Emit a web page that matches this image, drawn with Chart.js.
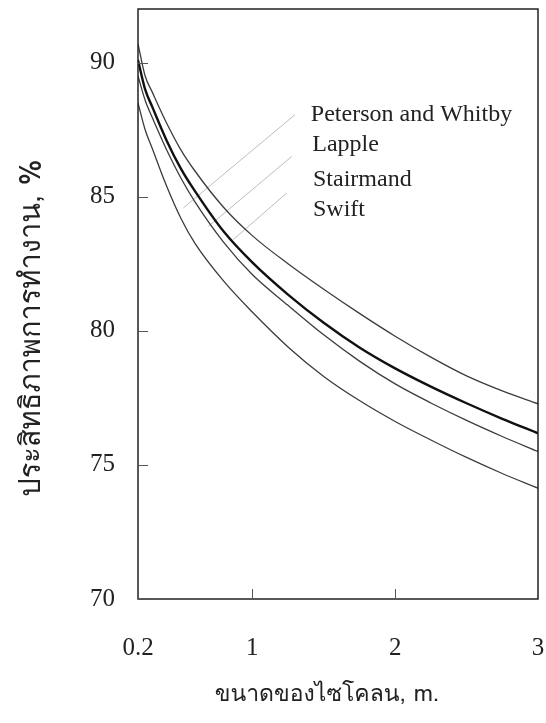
<!DOCTYPE html>
<html>
<head>
<meta charset="utf-8">
<script src="https://cdn.jsdelivr.net/npm/chart.js@4"></script>
<style>
  body { margin: 0; background: #fff; }
  #wrap { width: 546px; height: 723px; position: relative; }
</style>
</head>
<body>
<div id="wrap"><canvas id="chart"></canvas></div>
<script>
// cyclone diameter (m) vs collection efficiency (%)
const sizes = [0.2, 0.25, 0.3, 0.4, 0.5, 0.6, 0.8, 1.0, 1.25, 1.5, 1.75, 2.0, 2.25, 2.5, 2.75, 3.0];
const swift     = [90.7, 89.5, 88.9, 87.75, 86.75, 85.95, 84.6, 83.55, 82.5, 81.55, 80.65, 79.8, 79.02, 78.32, 77.76, 77.28];
const stairmand = [90.1, 89.0, 88.35, 87.1, 86.05, 85.2, 83.7, 82.55, 81.35, 80.3, 79.38, 78.6, 77.92, 77.3, 76.72, 76.18];
const lapple    = [89.5, 88.6, 87.95, 86.75, 85.7, 84.8, 83.3, 82.1, 80.95, 79.85, 78.87, 78.02, 77.31, 76.66, 76.06, 75.5];
const peterson  = [88.5, 87.5, 86.8, 85.4, 84.2, 83.25, 81.85, 80.7, 79.4, 78.3, 77.4, 76.62, 75.93, 75.28, 74.68, 74.13];

const xTicks = [0.2, 1, 2, 3];
const yTicks = [70, 75, 80, 85, 90];

// curve names, where they are written, and the leader lines
const labelNames = ['Peterson and Whitby', 'Lapple', 'Stairmand', 'Swift'];
const labelX = [1.41, 1.42, 1.425, 1.425];
const labelY = [88.05, 86.95, 85.63, 84.5];
const leaderFrom = [[1.299, 88.06], [1.276, 86.5], [1.241, 85.14]];
const leaderTo   = [[0.517, 84.58], [0.692, 83.89], [0.867, 83.4]];

const serif = "'Liberation Serif', 'Times New Roman', serif";
const thai = "'Norasi', 'Tlwg Typo', 'Loma', 'Garuda', 'Noto Serif Thai', 'Noto Sans Thai', 'Liberation Serif', serif";
const yTitle = 'ประสิทธิภาพการทำงาน, %';
const xTitle = 'ขนาดของไซโคลน, m.';

const pts = ys => sizes.map((x, i) => ({ x, y: ys[i] }));

const curve = (label, ys, width) => ({
  label,
  data: pts(ys),
  borderColor: width > 2 ? '#111' : '#3c3c3c',
  borderWidth: width,
  pointRadius: 0,
  fill: false,
  cubicInterpolationMode: 'monotone'
});

const leaders = leaderFrom.map((p, i) => ({
  label: 'leader' + i,
  data: [{ x: p[0], y: p[1] }, { x: leaderTo[i][0], y: leaderTo[i][1] }],
  borderColor: '#bdbdbd',
  borderWidth: 1,
  pointRadius: 0,
  fill: false
}));

// box round the plot, inward ticks, curve names, axis titles
const frame = {
  id: 'frame',
  afterDatasetsDraw(chart) {
    const { ctx, chartArea: a, scales: { x, y } } = chart;
    ctx.save();
    ctx.strokeStyle = '#222';
    ctx.lineWidth = 1.5;
    ctx.strokeRect(a.left, a.top, a.right - a.left, a.bottom - a.top);
    ctx.lineWidth = 1;
    ctx.strokeStyle = '#555';
    ctx.beginPath();
    xTicks.forEach(v => {
      const px = Math.round(x.getPixelForValue(v)) + 0.5;
      ctx.moveTo(px, a.bottom); ctx.lineTo(px, a.bottom - 10);
    });
    yTicks.forEach(v => {
      const py = Math.round(y.getPixelForValue(v)) + 0.5;
      ctx.moveTo(a.left, py); ctx.lineTo(a.left + 10, py);
    });
    ctx.stroke();

    ctx.fillStyle = '#222';
    ctx.font = '24px ' + serif;
    ctx.textBaseline = 'middle';
    ctx.textAlign = 'left';
    labelNames.forEach((t, i) => {
      ctx.fillText(t, x.getPixelForValue(labelX[i]), y.getPixelForValue(labelY[i]));
    });

    ctx.textAlign = 'center';
    ctx.font = '23px ' + thai;
    ctx.fillText(xTitle, 327, 696);

    ctx.translate(34, (a.top + a.bottom) / 2 + 24);
    ctx.rotate(-Math.PI / 2);
    ctx.font = '29px ' + thai;
    ctx.fillText(yTitle, 0, 0);
    ctx.restore();
  }
};

new Chart(document.getElementById('chart'), {
  type: 'line',
  data: {
    datasets: [
      curve('Swift', swift, 1.3),
      curve('Stairmand', stairmand, 2.4),
      curve('Lapple', lapple, 1.3),
      curve('Peterson and Whitby', peterson, 1.3),
      ...leaders
    ]
  },
  options: {
    responsive: true,
    maintainAspectRatio: false,
    animation: false,
    layout: { padding: { top: 9, right: 8, left: 0, bottom: 0 } },
    plugins: { legend: { display: false }, tooltip: { enabled: false } },
    scales: {
      x: {
        type: 'linear',
        min: 0.2,
        max: 3,
        afterBuildTicks: s => { s.ticks = xTicks.map(v => ({ value: v })); },
        afterFit: s => { s.height = 124; s.paddingLeft = 0; s.paddingRight = 0; },
        grid: { display: false },
        border: { display: false },
        ticks: {
          padding: 26,
          color: '#222',
          font: { family: serif, size: 25 },
          maxRotation: 0,
          callback: v => String(v)
        }
      },
      y: {
        min: 70,
        max: 92,
        afterBuildTicks: s => { s.ticks = yTicks.map(v => ({ value: v })); },
        afterFit: s => { s.width = 138; s.paddingTop = 0; s.paddingBottom = 0; },
        grid: { display: false },
        border: { display: false },
        ticks: {
          padding: 15,
          color: '#222',
          font: { family: serif, size: 25 }
        }
      }
    }
  },
  plugins: [frame]
});
</script>
</body>
</html>
